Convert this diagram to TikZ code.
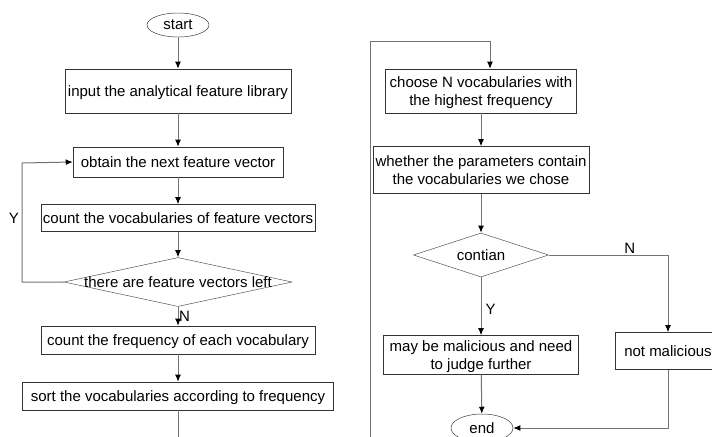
\documentclass[tikz,border=0pt]{standalone}
\usepackage{fontspec}
\setmainfont{Liberation Sans}
\usetikzlibrary{shapes.geometric,arrows.meta}

\begin{document}
\begin{tikzpicture}[
            x = 0.03cm, y = -0.03cm,
            every node/.style={text depth=0pt, font=\fontsize{12.8}{15}\selectfont, inner sep=0.5pt},
            box/.style={draw=black!80, rectangle, align=center},
            term/.style={draw=black!80, ellipse},
            choice/.style={draw=black!70, diamond, inner sep=0pt},
            line/.style={draw=black!55, line width=.03cm, -{Latex[length=6pt,width=5pt,color=black]}},
            ]
        \clip (0, 0) rectangle (712, 436);

        \node[term, minimum width=1.86cm, minimum height=0.72cm] (0) at (178, 25) {start};
        \node[box, minimum width=6.78cm, minimum height=1.32cm] (1) at (178, 91) {input the analytical feature library};
        \node[box, minimum width=6.3cm, minimum height=0.9cm] (2) at (178, 162) {obtain the next feature vector};
        \node[box, minimum width=8.22cm, minimum height=0.81cm] (3) at (178, 218) {count the vocabularies of feature vectors};
        \node[choice, minimum width=6.84cm, minimum height=1.47cm, label={center:there are feature vectors left}] (4) at (178, 282) {};
        \node[box, minimum width=8.22cm, minimum height=0.84cm] (5) at (178, 340) {count the frequency of each vocabulary};
        \node[box, minimum width=9.33cm, minimum height=0.84cm] (6) at (178, 396) {sort the vocabularies according to frequency};

        \node[box, minimum width=5.73cm, minimum height=1.32cm] (7) at (481, 91) {choose N vocabularies with\\the highest frequency};
        \node[box, minimum width=6.48cm, minimum height=1.41cm] (8) at (481, 170) {whether the parameters contain\\the vocabularies we chose};
        \node[choice, minimum width=4.05cm, minimum height=1.32cm, label={center:contian}] (9) at (481, 255) {};
        \node[box, minimum width=5.85cm, minimum height=1.17cm] (10) at (481, 355) {may be malicious and need\\to judge further};
        \node[box, minimum width=3.18cm, minimum height=1.11cm] (11) at (668, 351) {not malicious};
        \node[term, minimum width=1.86cm, minimum height=0.84cm] (12) at (482, 428) {end};

        \coordinate (13) at (178, 450);
        \coordinate (14) at (370, 450);
        \coordinate (15) at (370, 41);
        \coordinate (16) at (490, 41);

        \draw[line] (0) -- (1);
        \draw[line] (1) -- (2);
        \draw[line] (2) -- (3);
        \draw[line] (3) -- (4);
        \draw[line] (4.west) -- (22, 282) -- (22, 163) -- (2.west);
        \draw[line] (4) -- node[right, pos=0.5] {N} (5);
        \draw[line] (5) -- (6);
        \draw[line] (6) -- (13) -- (14) -- (15) -- (16) -- (16 |- 7.north);
        \draw[line] (7) -- (8);
        \draw[line] (8) -- (9);
        \draw[line] (9) -- node[right=3pt, pos=0.55] {Y} (10);
        \draw[line] (9.east) -- node[above, pos=0.68] {N} (668, 255) -- (11);
        \draw[line] (10) -- (12);
        \draw[line] (11) |- (12);
        \node (17) at (14, 218) {Y};
\end{tikzpicture}
\end{document}
